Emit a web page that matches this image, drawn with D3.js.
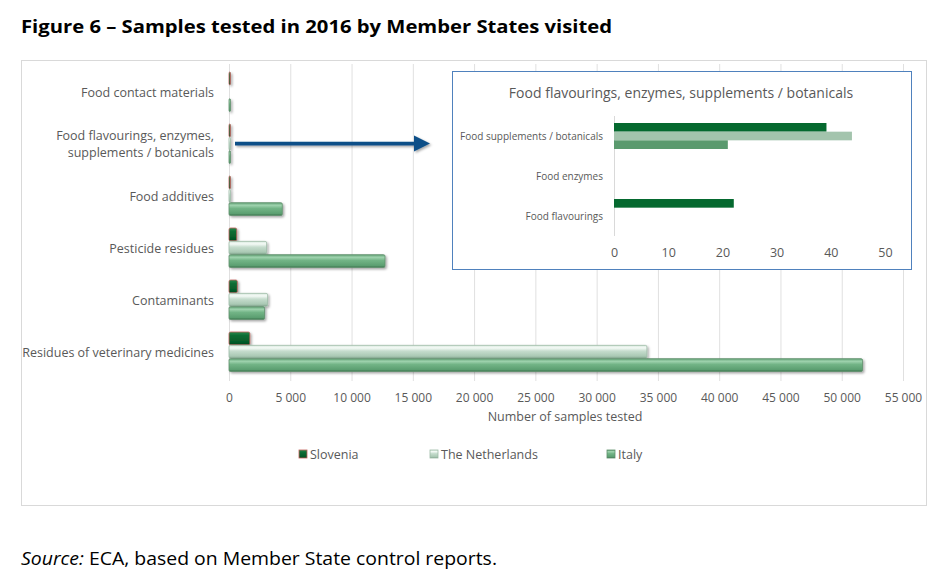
<!DOCTYPE html>
<html><head><meta charset="utf-8">
<script src="https://cdn.jsdelivr.net/npm/d3@7/dist/d3.min.js"></script>
<style>body{margin:0;background:#fff;} svg{display:block;font-family:"Open Sans","Noto Sans",sans-serif;}</style>
</head><body>
<script>
const categories = ["Food contact materials","Food flavourings, enzymes, supplements / botanicals","Food additives","Pesticide residues","Contaminants","Residues of veterinary medicines"];
const categoryLines = [["Food contact materials"],["Food flavourings, enzymes,","supplements / botanicals"],["Food additives"],["Pesticide residues"],["Contaminants"],["Residues of veterinary medicines"]];
const seriesNames = ["Slovenia","The Netherlands","Italy"];
const slovenia = [40, 61, 60, 630, 680, 1700];
const netherlands = [0, 44, 40, 3070, 3150, 34100];
const italy = [60, 21, 4350, 12730, 2900, 51700];
const xTicks = [0,5000,10000,15000,20000,25000,30000,35000,40000,45000,50000,55000];

const insetCategories = ["Food supplements / botanicals","Food enzymes","Food flavourings"];
const insetSlovenia = [39.2, 0, 22.1];
const insetNetherlands = [43.9, 0, 0];
const insetItaly = [21.0, 0, 0];
const insetTicks = [0,10,20,30,40,50];

const W=942,H=578;
const svg=d3.select("body").append("svg").attr("width",W).attr("height",H);
const defs=svg.append("defs");
function grad(id,stops){const g=defs.append("linearGradient").attr("id",id).attr("x1",0).attr("y1",0).attr("x2",0).attr("y2",1);
 stops.forEach(s=>g.append("stop").attr("offset",s[0]).attr("stop-color",s[1]));}
grad("gSlo",[[0,"#2e8a50"],[0.25,"#0c6e35"],[0.8,"#055a28"],[1,"#03461e"]]);
grad("gNl",[[0,"#d8e8dd"],[0.2,"#f4faf6"],[0.45,"#c5dccd"],[0.85,"#a9c8b3"],[1,"#7fa08a"]]);
grad("gIt",[[0,"#5d9e72"],[0.2,"#9fd3ae"],[0.45,"#72b486"],[0.85,"#5c9f71"],[1,"#3e7350"]]);
const filt=defs.append("filter").attr("id","sh").attr("filterUnits","userSpaceOnUse").attr("x",0).attr("y",0).attr("width",W).attr("height",H);
filt.append("feDropShadow").attr("dx",1.5).attr("dy",1.5).attr("stdDeviation",1.2).attr("flood-color","#000").attr("flood-opacity",0.35);

// title
svg.append("text").attr("x",21).attr("y",33).attr("font-size",18).attr("font-weight","bold").attr("fill","#000")
 .attr("textLength",591).attr("lengthAdjust","spacingAndGlyphs").text("Figure 6 – Samples tested in 2016 by Member States visited");

// chart frame
svg.append("rect").attr("x",21.5).attr("y",60.5).attr("width",905).attr("height",445).attr("fill","#fff").attr("stroke","#d9d9d9");

const x=d3.scaleLinear().domain([0,55000]).range([229,903]);
const y=d3.scaleBand().domain(categories).range([66,378]).paddingInner(0).paddingOuter(0);
const yi=d3.scaleBand().domain(seriesNames).range([0,40]);
const gridG=svg.append("g");
gridG.selectAll("line").data(xTicks).join("line").attr("x1",d=>x(d)+0.5).attr("x2",d=>x(d)+0.5).attr("y1",64).attr("y2",381)
 .attr("stroke","#e0e0e0").attr("stroke-width",1);

const xAxis=svg.append("g").attr("transform","translate(0,381)")
 .call(d3.axisBottom(x).tickValues(xTicks).tickSize(0).tickPadding(12).tickFormat(d=>d3.format(",")(d).replace(/,/g," ")));
xAxis.select(".domain").remove();
xAxis.selectAll("text").attr("font-size",12).attr("fill","#595959").attr("font-family","'Open Sans','Noto Sans',sans-serif");
svg.append("text").attr("x",565).attr("y",421).attr("text-anchor","middle").attr("font-size",12.5).attr("fill","#595959").text("Number of samples tested");

// category labels
const lab=svg.append("g");
categories.forEach((c,i)=>{
 const lines=categoryLines[i]; const cy=y(c)+y.bandwidth()/2;
 lines.forEach((l,j)=>{
  lab.append("text").attr("x",214).attr("y",cy+(j-(lines.length-1)/2)*17+4.5).attr("text-anchor","end")
   .attr("font-size",12.5).attr("fill","#595959").text(l);
 });
});

const data=[slovenia,netherlands,italy];
const fills=["url(#gSlo)","url(#gNl)","url(#gIt)"];
const strokes=["#c0605a","#9dbba7","#5f8f6c"];
const barsG=svg.append("g");
seriesNames.forEach((s,k)=>{
 barsG.append("g").selectAll("rect").data(categories.map((c,i)=>({c,v:data[k][i]}))).join("rect")
  .attr("x",x(0)).attr("y",d=>y(d.c)+6+yi(s)).attr("height",yi.bandwidth()-0.5)
  .attr("width",d=>d.v>0?Math.max(1.5,x(d.v)-x(0)):0)
  .attr("fill",fills[k]).attr("stroke",strokes[k]).attr("stroke-width",0.8).attr("rx",1.5)
  .attr("filter","url(#sh)");
});

// legend
const legX=[299,430,607];
seriesNames.forEach((s,k)=>{
 svg.append("rect").attr("x",legX[k]).attr("y",450).attr("width",8).attr("height",8).attr("fill",fills[k]).attr("stroke",strokes[k]).attr("stroke-width",0.8);
 svg.append("text").attr("x",legX[k]+11).attr("y",459).attr("font-size",12.5).attr("fill","#595959").text(s);
});

// arrow
svg.append("path").attr("d","M235,141.8 L414,141.8 L414,135.5 L430,143.5 L414,151.5 L414,145.4 L235,145.4 Z")
 .attr("fill","#0e4f88").attr("filter","url(#sh)");

// inset
const inset=svg.append("g");
inset.append("rect").attr("x",452.5).attr("y",71.5).attr("width",459).attr("height",198).attr("fill","#fff").attr("stroke","#4f81bd").attr("stroke-width",1);
inset.append("text").attr("x",681).attr("y",98).attr("text-anchor","middle").attr("font-size",14).attr("fill","#595959").text("Food flavourings, enzymes, supplements / botanicals");
const xi=d3.scaleLinear().domain([0,50]).range([614,885]);
const ycat=d3.scaleBand().domain(insetCategories).range([116,236]);
const ys=d3.scaleBand().domain(seriesNames).range([0,26]);
inset.append("line").attr("x1",614.5).attr("x2",614.5).attr("y1",116).attr("y2",236).attr("stroke","#d9d9d9");
const iax=inset.append("g").attr("transform","translate(0,236)").call(d3.axisBottom(xi).tickValues(insetTicks).tickSize(0).tickPadding(12));
iax.select(".domain").remove();
iax.selectAll("text").attr("font-size",12.5).attr("fill","#595959").attr("font-family","'Open Sans','Noto Sans',sans-serif");
insetCategories.forEach(c=>{
 inset.append("text").attr("x",603).attr("y",ycat(c)+ycat.bandwidth()/2+4).attr("text-anchor","end").attr("font-size",10).attr("fill","#595959").text(c);
});
const insetData=[insetSlovenia,insetNetherlands,insetItaly];
const insetColors=["#05692f","#a3c4ad","#5a9a6e"];
seriesNames.forEach((s,k)=>{
 inset.append("g").selectAll("rect").data(insetCategories.map((c,i)=>({c,v:insetData[k][i]})).filter(d=>d.v>0)).join("rect")
  .attr("x",xi(0)).attr("y",d=>ycat(d.c)+ycat.bandwidth()/2-13+ys(s)+ (d.c==="Food flavourings"?-4:0))
  .attr("height",ys.bandwidth()).attr("width",d=>xi(d.v)-xi(0)).attr("fill",insetColors[k]);
});

// source
const src=svg.append("text").attr("x",21).attr("y",565).attr("font-size",18).attr("fill","#000").attr("textLength",476).attr("lengthAdjust","spacingAndGlyphs");
src.append("tspan").attr("font-style","italic").text("Source:");
src.append("tspan").text(" ECA, based on Member State control reports.");
</script>
</body></html>
